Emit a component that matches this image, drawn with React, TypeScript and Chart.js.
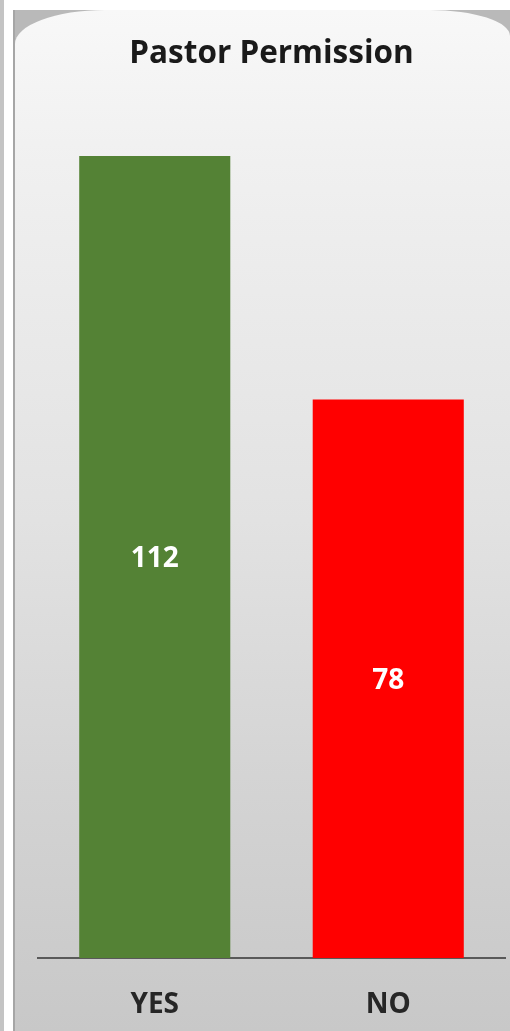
import React, { useEffect, useRef } from "react";
import { Chart, registerables } from "chart.js";

Chart.register(...registerables);

const categories = ["YES", "NO"];
const counts = [112, 78];
const barColors = ["#548235", "#FF0000"];
const chartTitle = "Pastor Permission";
const yMax = 120;

const FONT = "'Open Sans', Lato, sans-serif";

const valueLabels = {
  id: "valueLabels",
  afterDatasetsDraw(chart: any) {
    const ctx = chart.ctx;
    const meta = chart.getDatasetMeta(0);
    ctx.save();
    ctx.fillStyle = "#ffffff";
    ctx.font = `bold 28px ${FONT}`;
    ctx.textAlign = "center";
    ctx.textBaseline = "middle";
    meta.data.forEach((bar: any, i: number) => {
      const v = chart.data.datasets[0].data[i];
      ctx.fillText(String(v), bar.x, (bar.y + bar.base) / 2 + 2);
    });
    ctx.restore();
  },
};

export default function App() {
  const ref = useRef<HTMLCanvasElement>(null);
  useEffect(() => {
    document.body.style.margin = "0";
    const chart = new Chart(ref.current!, {
      type: "bar",
      data: {
        labels: categories,
        datasets: [
          {
            data: counts,
            backgroundColor: barColors,
            borderWidth: 0,
            barPercentage: 0.647,
            categoryPercentage: 1,
          },
        ],
      },
      options: {
        responsive: false,
        animation: false,
        layout: { padding: { left: 23, right: 5, top: 0, bottom: -21 } },
        plugins: {
          legend: { display: false },
          tooltip: { enabled: false },
          title: {
            display: true,
            text: chartTitle,
            color: "#1a1a1a",
            font: { family: FONT, size: 31.5, weight: "bold" },
            padding: { top: 25, bottom: 25.9 },
          },
        },
        scales: {
          x: {
            grid: { display: false, drawTicks: false },
            border: { display: true, color: "#595959", width: 2 },
            ticks: {
              color: "#262626",
              font: { family: FONT, size: 28, weight: "bold" },
              padding: 30.2,
            },
          },
          y: {
            display: false,
            min: 0,
            max: yMax,
          },
        },
      },
      plugins: [valueLabels],
    });
    return () => chart.destroy();
  }, []);

  return (
    <div
      style={{
        position: "fixed",
        left: 0,
        top: 0,
        width: 510,
        height: 1031,
        background: "#ffffff",
        overflow: "hidden",
      }}
    >
      <div
        style={{
          position: "absolute",
          left: 0,
          top: 0,
          width: 4,
          height: 1031,
          background: "#c4c4c4",
        }}
      />
      <div
        style={{
          position: "absolute",
          left: 13,
          top: 10,
          width: 497,
          height: 1021,
          background: "#b9b9b9",
          borderLeft: "2px solid #a6a6a6",
          boxSizing: "border-box",
        }}
      >
        <div
          style={{
            position: "absolute",
            left: 0,
            top: 0,
            right: 0,
            bottom: 0,
            borderTopLeftRadius: "90px 34px",
            borderTopRightRadius: "80px 26px",
            background:
              "linear-gradient(180deg, #f8f8f8 0%, #f0f0f0 15%, #e2e2e2 50%, #d4d4d4 75%, #c8c8c8 100%)",
          }}
        />
      </div>
      <canvas
        ref={ref}
        width={495}
        height={1021}
        style={{ position: "absolute", left: 15, top: 10 }}
      />
    </div>
  );
}
